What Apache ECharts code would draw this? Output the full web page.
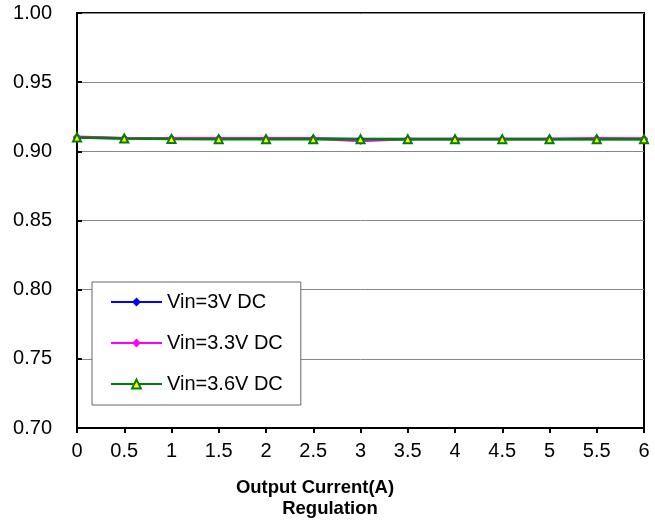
<!DOCTYPE html>
<html><head><meta charset="utf-8">
<script src="https://cdn.jsdelivr.net/npm/echarts@6/dist/echarts.min.js"></script>
<style>html,body{margin:0;padding:0;background:#fff}#c{width:655px;height:526px}</style>
</head><body><div id="c"></div>
<script>
const xValues = [0,0.5,1,1.5,2,2.5,3,3.5,4,4.5,5,5.5,6];
const vin3 = [0.9100,0.9095,0.9095,0.9093,0.9093,0.9092,0.9090,0.9090,0.9090,0.9090,0.9090,0.9090,0.9090];
const vin33 = [0.9105,0.9095,0.9095,0.9095,0.9093,0.9092,0.9075,0.9090,0.9090,0.9090,0.9090,0.9095,0.9093];
const vin36 = [0.9100,0.9093,0.9090,0.9088,0.9088,0.9087,0.9088,0.9088,0.9088,0.9088,0.9087,0.9087,0.9087];
const names = ['Vin=3V DC','Vin=3.3V DC','Vin=3.6V DC'];
const xTitle = 'Output Current(A)';
const chartTitle = 'Regulation';
const font = 'Liberation Sans, Arial, sans-serif';
const pair = a => xValues.map((x,i)=>[x,a[i]]);
const chart = echarts.init(document.getElementById('c'));
chart.setOption({
  animation:false,
  grid:{left:77,right:11,top:13,bottom:98,show:true,borderColor:'#000',borderWidth:2,containLabel:false},
  graphic:[
    {type:'text',x:315,y:478,style:{text:xTitle,textAlign:'center',textVerticalAlign:'top',fontFamily:font,fontSize:18.5,fontWeight:'bold',fill:'#000'}},
    {type:'text',x:330,y:499,style:{text:chartTitle,textAlign:'center',textVerticalAlign:'top',fontFamily:font,fontSize:18.5,fontWeight:'bold',fill:'#000'}}
  ],
  legend:{orient:'vertical',left:92,top:282,padding:[10,18,11,18],itemGap:21,itemWidth:51,itemHeight:11,
    backgroundColor:'#fff',borderColor:'#666',borderWidth:1,
    textStyle:{fontFamily:font,fontSize:20,color:'#000'},data:names},
  xAxis:{type:'value',min:0,max:6,interval:0.5,
    axisLine:{lineStyle:{color:'#000',width:2}},
    axisTick:{show:true,length:5,lineStyle:{color:'#000',width:2}},
    axisLabel:{fontFamily:font,fontSize:20,color:'#000',margin:13,formatter:v=>String(v)},
    splitLine:{show:false}},
  yAxis:{type:'value',min:0.70,max:1.00,interval:0.05,
    axisLine:{show:true,lineStyle:{color:'#000',width:2}},
    axisTick:{show:true,inside:true,length:5,lineStyle:{color:'#000',width:2}},
    axisLabel:{fontFamily:font,fontSize:20,color:'#000',margin:25,formatter:v=>v.toFixed(2)},
    splitLine:{show:true,lineStyle:{color:'#888',width:1}}},
  series:[
    {name:names[0],type:'line',data:pair(vin3),symbol:'diamond',symbolSize:8,
     lineStyle:{color:'#0000ff',width:2.5},itemStyle:{color:'#0000ff'}},
    {name:names[1],type:'line',data:pair(vin33),symbol:'diamond',symbolSize:8,
     lineStyle:{color:'#ff00ff',width:2.5},itemStyle:{color:'#ff00ff'}},
    {name:names[2],type:'line',data:pair(vin36),symbol:'triangle',symbolSize:8,
     lineStyle:{color:'#008000',width:2.5},itemStyle:{color:'#ffff00',borderColor:'#008000',borderWidth:2}}
  ]
});
</script></body></html>
